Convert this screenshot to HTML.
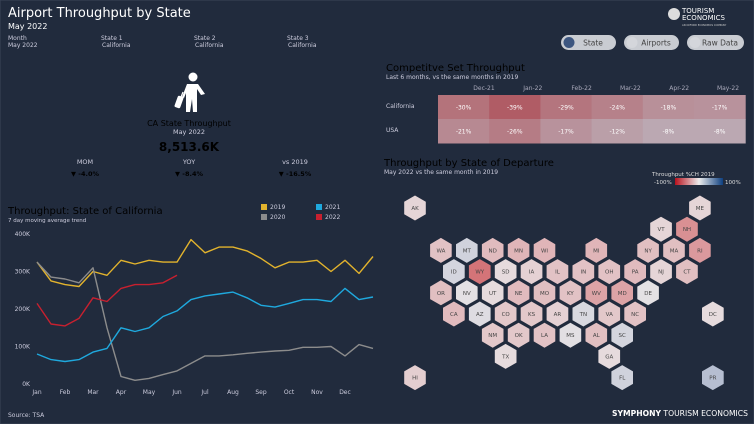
<!DOCTYPE html>
<html><head><meta charset="utf-8">
<style>
body{margin:0;width:754px;height:424px;background:#212b3d;overflow:hidden;font-family:"Liberation Sans","DejaVu Sans",sans-serif;color:#fff}
svg{position:absolute;left:0;top:0}
text{font-family:"DejaVu Sans","Liberation Sans",sans-serif}
</style></head>
<body>
<svg width="754" height="424" id="svg">
<rect x="0" y="0" width="754" height="424" fill="#212b3d" stroke="#3a4558"/>
<text x="8" y="17" font-size="13" fill="#fff">Airport Throughput by State</text>
<text x="8" y="29" font-size="8" fill="#fff">May 2022</text>
<g font-size="6" fill="#ccd">
<text x="8" y="40">Month</text><text x="8" y="47">May 2022</text>
<text x="101" y="40">State 1</text><text x="102" y="47">California</text>
<text x="194" y="40">State 2</text><text x="195" y="47">California</text>
<text x="287" y="40">State 3</text><text x="288" y="47">California</text>
</g>
<g fill="#fff">
<circle cx="193" cy="77" r="4.5"/>
<path d="M187 84 L198 84 L205 94 L201 95 L197 89 L197 112 L193 112 L192 99 L190 112 L186 112 L186 93 L184 98 L182 97Z"/>
<rect x="176" y="96" width="6" height="12" rx="1.5" transform="rotate(20 179 102)"/>
<line x1="183" y1="92" x2="181" y2="97" stroke="#fff" stroke-width="1.2"/>
</g>
<text x="189" y="126" font-size="8" text-anchor="middle">CA State Throughput</text>
<text x="189" y="134" font-size="6.5" text-anchor="middle" fill="#ccd">May 2022</text>
<text x="189" y="151" font-size="12" font-weight="bold" text-anchor="middle">8,513.6K</text>
<g font-size="6.5" text-anchor="middle">
<text x="85" y="164" fill="#ccd">MOM</text><text x="85" y="176" font-weight="bold">▼ -4.0%</text>
<text x="189" y="164" fill="#ccd">YOY</text><text x="189" y="176" font-weight="bold">▼ -8.4%</text>
<text x="295" y="164" fill="#ccd">vs 2019</text><text x="295" y="176" font-weight="bold">▼ -16.5%</text>
</g>
<g>
<circle cx="674" cy="14" r="6" fill="#ddd"/>
<text x="682" y="13" font-size="7" fill="#fff">TOURISM</text><text x="682" y="20" font-size="7" fill="#fff">ECONOMICS</text>
<text x="682" y="26" font-size="2.5" fill="#ccc">AN OXFORD ECONOMICS COMPANY</text>
</g>
<g font-size="7.5" text-anchor="middle" fill="#333">
<g><rect x="561" y="35" width="55" height="15" rx="7.5" fill="#c9ccd2"/><circle cx="569" cy="42.5" r="5.5" fill="#3d5680"/><text x="593" y="45.5" fill="#444">State</text></g>
<g><rect x="624" y="35" width="55" height="15" rx="7.5" fill="#c9ccd2"/><circle cx="632" cy="42.5" r="5.5" fill="#d4d6db"/><text x="656" y="45.5" fill="#444">Airports</text></g>
<g><rect x="687" y="35" width="57" height="15" rx="7.5" fill="#c9ccd2"/><circle cx="695" cy="42.5" r="5.5" fill="#d4d6db"/><text x="720" y="45.5" fill="#444">Raw Data</text></g>
</g>
<text x="386" y="71" font-size="10">Competitve Set Throughput</text>
<text x="386" y="79" font-size="6" fill="#ccd">Last 6 months, vs the same months in 2019</text>
<g id="heat"></g>
<text x="384" y="166" font-size="10">Throughput by State of Departure</text>
<text x="384" y="174" font-size="6" fill="#ccd">May 2022 vs the same month in 2019</text>
<defs><linearGradient id="lg"><stop offset="0" stop-color="#b8121e"/><stop offset="0.5" stop-color="#ececec"/><stop offset="1" stop-color="#0d3f80"/></linearGradient></defs>
<g>
<text x="652" y="176" font-size="5.5" fill="#ddd">Throughput %CH 2019</text>
<text x="654" y="184" font-size="5.5" fill="#ddd">-100%</text>
<rect x="675" y="178" width="48" height="7" fill="url(#lg)"/>
<text x="725" y="184" font-size="5.5" fill="#ddd">100%</text>
</g>
<g id="hex"></g>
<text x="8" y="214" font-size="10">Throughput: State of California</text>
<text x="8" y="222" font-size="5.5" fill="#ccd">7 day moving average trend</text>
<g id="chart"></g>
<text x="8" y="417" font-size="6" fill="#ccd">Source: TSA</text>
<text x="612" y="416" font-size="7.5" fill="#fff" textLength="136" lengthAdjust="spacingAndGlyphs"><tspan font-weight="bold">SYMPHONY</tspan> TOURISM ECONOMICS</text>
</svg>
<script>
const NS='http://www.w3.org/2000/svg';
function mk(tag,attrs,parent,txt){const e=document.createElementNS(NS,tag);for(const k in attrs)e.setAttribute(k,attrs[k]);if(txt!==undefined)e.textContent=txt;parent.appendChild(e);return e;}

// ---- line chart data (half-month steps from Jan 1) ----
const monthLabels=['Jan','Feb','Mar','Apr','May','Jun','Jul','Aug','Sep','Oct','Nov','Dec'];
const yTicks=[0,100,200,300,400];
const seriesYears=['2019','2020','2021','2022'];
const seriesColors=['#e2b32d','#8c8c8c','#1fa9de','#c8202f'];
const s2019=[325,275,265,260,300,290,330,320,330,325,325,385,350,365,365,355,335,310,325,325,330,300,330,295,340];
const s2020=[325,285,280,270,310,150,20,10,15,25,35,55,75,75,78,82,85,88,90,98,98,100,75,105,95];
const s2021=[80,65,60,65,85,95,150,140,150,180,195,225,235,240,245,230,210,205,215,225,225,220,255,225,232];
const s2022=[215,160,155,175,230,220,255,265,265,270,290];
const seriesData=[s2019,s2020,s2021,s2022];

const ch=document.getElementById('chart');
const X=m=>37+m*28, Y=v=>384-v*0.375;
yTicks.forEach(t=>{const e=mk('text',{x:30,y:Y(t)+2,'font-size':6,fill:'#ccd','text-anchor':'end'},ch,t+'K');

});
monthLabels.forEach((l,i)=>{const e=mk('text',{x:X(i),y:394,'font-size':6,fill:'#ccd','text-anchor':'middle'},ch,l);

});
seriesData.forEach((d,si)=>{
 const p=mk('path',{d:d.map((v,i)=>(i?'L':'M')+X(i*0.5).toFixed(1)+' '+Y(v).toFixed(1)).join(''),fill:'none',stroke:seriesColors[si],'stroke-width':1.4,'stroke-linejoin':'round'},ch);
 
 
});
const legPos=[[261,209],[261,219],[316,209],[316,219]];
seriesYears.forEach((y,i)=>{const g=mk('g',{},ch);


mk('rect',{x:legPos[i][0],y:legPos[i][1]-5,width:6,height:6,fill:seriesColors[i]},g);
mk('text',{x:legPos[i][0]+9,y:legPos[i][1],'font-size':6,fill:'#ccd'},g,y);});

// ---- heatmap data ----
const heatCols=['Dec-21','Jan-22','Feb-22','Mar-22','Apr-22','May-22'];
const heatRows=['California','USA'];
const heatCA=[-30,-39,-29,-24,-18,-17];
const heatUSA=[-21,-26,-17,-12,-8,-8];
const heatVals=[heatCA,heatUSA];
const hg=document.getElementById('heat');
function heatColor(v){const t=Math.min(1,-v/40);const a=[190,188,198],b=[176,90,98];return 'rgb('+a.map((c,i)=>Math.round(c+(b[i]-c)*t)).join(',')+')';}
heatCols.forEach((c,i)=>{const e=mk('text',{x:460+i*48.8+24,y:90,'font-size':6,fill:'#aab','text-anchor':'middle'},hg,c);

});
heatRows.forEach((r,ri)=>{const e=mk('text',{x:386,y:108+ri*24,'font-size':6,fill:'#ccd'},hg,r);


heatVals[ri].forEach((v,ci)=>{const x=438+ci*51.2,y=95+ri*24;
 const rc=mk('rect',{x:x,y:y,width:51.7,height:24.5,fill:heatColor(v)},hg);
 
 
 mk('text',{x:x+25.6,y:y+14.5,'font-size':6,fill:'#fff','text-anchor':'middle'},hg,v+'%');});});

// ---- hex map data ----
const states=['AK','ME','VT','NH','WA','MT','ND','MN','WI','MI','NY','MA','RI','ID','WY','SD','IA','IL','IN','OH','PA','NJ','CT','OR','NV','UT','NE','MO','KY','WV','MD','DE','CA','AZ','CO','KS','AR','TN','VA','NC','DC','NM','OK','LA','MS','AL','SC','TX','GA','HI','FL','PR'];
const stateCol=[0,11,9.5,10.5,1,2,3,4,5,7,9,10,11,1.5,2.5,3.5,4.5,5.5,6.5,7.5,8.5,9.5,10.5,1,2,3,4,5,6,7,8,9,1.5,2.5,3.5,4.5,5.5,6.5,7.5,8.5,11.5,3,4,5,6,7,8,3.5,7.5,0,8,11.5];
const stateRow=[0,0,1,1,2,2,2,2,2,2,2,2,2,3,3,3,3,3,3,3,3,3,3,4,4,4,4,4,4,4,4,4,5,5,5,5,5,5,5,5,5,6,6,6,6,6,6,7,7,8,8,8];
const stateVals=[-8,-8,-8,-45,-18,12,-22,-25,-25,-25,-20,-20,-40,10,-60,-5,-10,-18,-18,-18,-22,-8,-20,-20,2,-5,-22,-20,-18,-35,-35,2,-22,5,-15,-15,-10,8,-15,-18,-5,-15,-15,-18,3,-20,10,-5,-5,-12,12,25];
function mapColor(v){const w=[232,228,230],r=[200,50,55],b=[40,85,150];const t=Math.abs(v)/100*1.05;const e=v<0?r:b;return 'rgb('+w.map((c,i)=>Math.round(c+(e[i]-c)*Math.min(1,t))).join(',')+')';}
const hx=document.getElementById('hex');
states.forEach((s,i)=>{const cx=415+stateCol[i]*25.9,cy=208+stateRow[i]*21.2,r=12.5;
 const pts=[];for(let k=0;k<6;k++){const a=Math.PI/180*(60*k-90);pts.push((cx+r*Math.cos(a)).toFixed(1)+','+(cy+r*Math.sin(a)).toFixed(1));}
 const g=mk('g',{},hx);
 
 
 mk('polygon',{points:pts.join(' '),fill:mapColor(stateVals[i])},g);
 mk('text',{x:cx,y:cy+2,'font-size':5.5,fill:'#444','text-anchor':'middle'},g,s);});
</script>
</body></html>
